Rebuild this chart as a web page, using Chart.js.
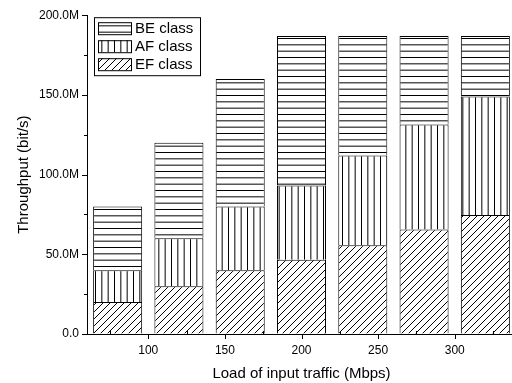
<!DOCTYPE html>
<html>
<head>
<meta charset="utf-8">
<script src="https://cdn.jsdelivr.net/npm/chart.js@4/dist/chart.umd.min.js"></script>
<style>
  html, body { margin: 0; padding: 0; background: #fff; overflow: hidden; }
  #wrap { position: relative; width: 520px; height: 383px; }
</style>
</head>
<body>
<div id="wrap"><canvas id="c"></canvas></div>
<script>
// Offered load (Mbps) and per-class throughput (Mbit/s)
const loads = [80, 120, 160, 200, 240, 280, 320];
const efClass = [20, 30, 40, 46.6, 55.6, 65.6, 74.6];
const afClass = [20, 30, 40, 46.6, 56.4, 65.9, 74.4];
const beClass = [40, 60, 80, 93.8, 75, 55.5, 38];
const seriesNames = ['EF class', 'AF class', 'BE class'];

// Axis ticks
const xTickValues = [100, 150, 200, 250, 300];
const xMinorValues = [75, 125, 175, 225, 275, 325];
const yTickValues = [0, 50, 100, 150, 200];
const yMinorValues = [25, 75, 125, 175];

const FONT = "'Liberation Sans', Arial, sans-serif";

// Line-hatch fill patterns: horizontal, vertical, diagonal
function hatch(kind) {
  const n = kind === 'd' ? 21 : 19;
  const c = document.createElement('canvas');
  c.width = n; c.height = n;
  const g = c.getContext('2d');
  g.fillStyle = '#fff';
  g.fillRect(0, 0, n, n);
  g.strokeStyle = '#000';
  g.lineWidth = 1;
  g.beginPath();
  if (kind === 'h') {
    for (let k = 0; k < 3; k++) { const y = k * n / 3 + 0.5; g.moveTo(0, y); g.lineTo(n, y); }
  } else if (kind === 'v') {
    for (let k = 0; k < 3; k++) { const x = k * n / 3 + 0.5; g.moveTo(x, 0); g.lineTo(x, n); }
  } else {
    for (let k = -n; k <= n; k += 7) { g.moveTo(k, n); g.lineTo(k + n, 0); }
  }
  g.stroke();
  return g.createPattern(c, 'repeat');
}

const fills = [hatch('d'), hatch('v'), hatch('h')];
const seriesValues = [efClass, afClass, beClass];

const datasets = seriesValues.map((vals, i) => ({
  label: seriesNames[i],
  data: loads.map((x, j) => ({ x: x, y: vals[j] })),
  backgroundColor: fills[i],
  borderColor: '#000',
  borderWidth: 1,
  borderSkipped: 'start',
  barPercentage: 0.8,
  categoryPercentage: 1.0
}));

// Tick marks (major outward, minor) and the boxed legend inside the plot
const decor = {
  id: 'decor',
  afterDraw(chart) {
    const { ctx, chartArea: a, scales: { x, y } } = chart;
    ctx.save();
    ctx.strokeStyle = '#000';
    ctx.lineWidth = 1;
    ctx.beginPath();
    xTickValues.forEach(v => {
      const px = Math.round(x.getPixelForValue(v)) + 0.5;
      ctx.moveTo(px, a.bottom); ctx.lineTo(px, a.bottom + 5);
    });
    xMinorValues.forEach(v => {
      const px = Math.round(x.getPixelForValue(v)) + 0.5;
      ctx.moveTo(px, a.bottom); ctx.lineTo(px, a.bottom - 3);
    });
    yTickValues.forEach(v => {
      const py = Math.round(y.getPixelForValue(v)) + 0.5;
      ctx.moveTo(a.left, py); ctx.lineTo(a.left - 5, py);
    });
    yMinorValues.forEach(v => {
      const py = Math.round(y.getPixelForValue(v)) + 0.5;
      ctx.moveTo(a.left, py); ctx.lineTo(a.left - 3, py);
    });
    ctx.stroke();

    // legend
    const lx = a.left + 7, ly = a.top + 2;
    ctx.fillStyle = '#fff';
    ctx.fillRect(lx, ly, 106, 58);
    ctx.strokeRect(lx + 0.5, ly + 0.5, 106, 58);
    ctx.font = '15px ' + FONT;
    ctx.textBaseline = 'middle';
    ctx.textAlign = 'left';
    const order = [2, 1, 0];
    order.forEach((di, k) => {
      const sx = lx + 4, sy = ly + 5 + k * 18;
      ctx.fillStyle = chart.data.datasets[di].backgroundColor;
      ctx.fillRect(sx, sy, 33, 12);
      ctx.strokeRect(sx + 0.5, sy + 0.5, 33, 12);
      ctx.fillStyle = '#000';
      ctx.fillText(chart.data.datasets[di].label, sx + 37, sy + 7);
    });
    ctx.restore();
  }
};

new Chart(document.getElementById('c'), {
  type: 'bar',
  data: { datasets: datasets },
  options: {
    responsive: true,
    maintainAspectRatio: false,
    animation: false,
    devicePixelRatio: 1,
    layout: { padding: { top: 15, right: 4, left: 0, bottom: 0 } },
    plugins: { legend: { display: false }, tooltip: { enabled: false } },
    scales: {
      x: {
        type: 'linear',
        stacked: true,
        offset: false,
        min: 60,
        max: 340,
        afterBuildTicks: s => { s.ticks = xTickValues.map(v => ({ value: v })); },
        afterFit: s => { s.height = 49; },
        grid: { display: true, drawOnChartArea: false, drawTicks: false },
        border: { display: true, color: '#000', width: 1 },
        ticks: { color: '#000', font: { family: FONT, size: 12 }, padding: 9, maxRotation: 0 },
        title: {
          display: true, text: 'Load of input traffic (Mbps)', color: '#000',
          font: { family: FONT, size: 15 }, padding: { top: 0, bottom: 0 }
        }
      },
      y: {
        stacked: true,
        min: 0,
        max: 200,
        afterBuildTicks: s => { s.ticks = yTickValues.map(v => ({ value: v })); },
        afterFit: s => { s.width = 87; },
        grid: { display: true, drawOnChartArea: false, drawTicks: false },
        border: { display: true, color: '#000', width: 1 },
        ticks: {
          color: '#000', font: { family: FONT, size: 12 }, padding: 8,
          callback: v => v === 0 ? '0.0' : v.toFixed(1) + 'M'
        },
        title: {
          display: true, text: 'Throughput (bit/s)', color: '#000',
          font: { family: FONT, size: 15 }, padding: { top: 15, bottom: 0 }
        }
      }
    }
  },
  plugins: [decor]
});
</script>
</body>
</html>
